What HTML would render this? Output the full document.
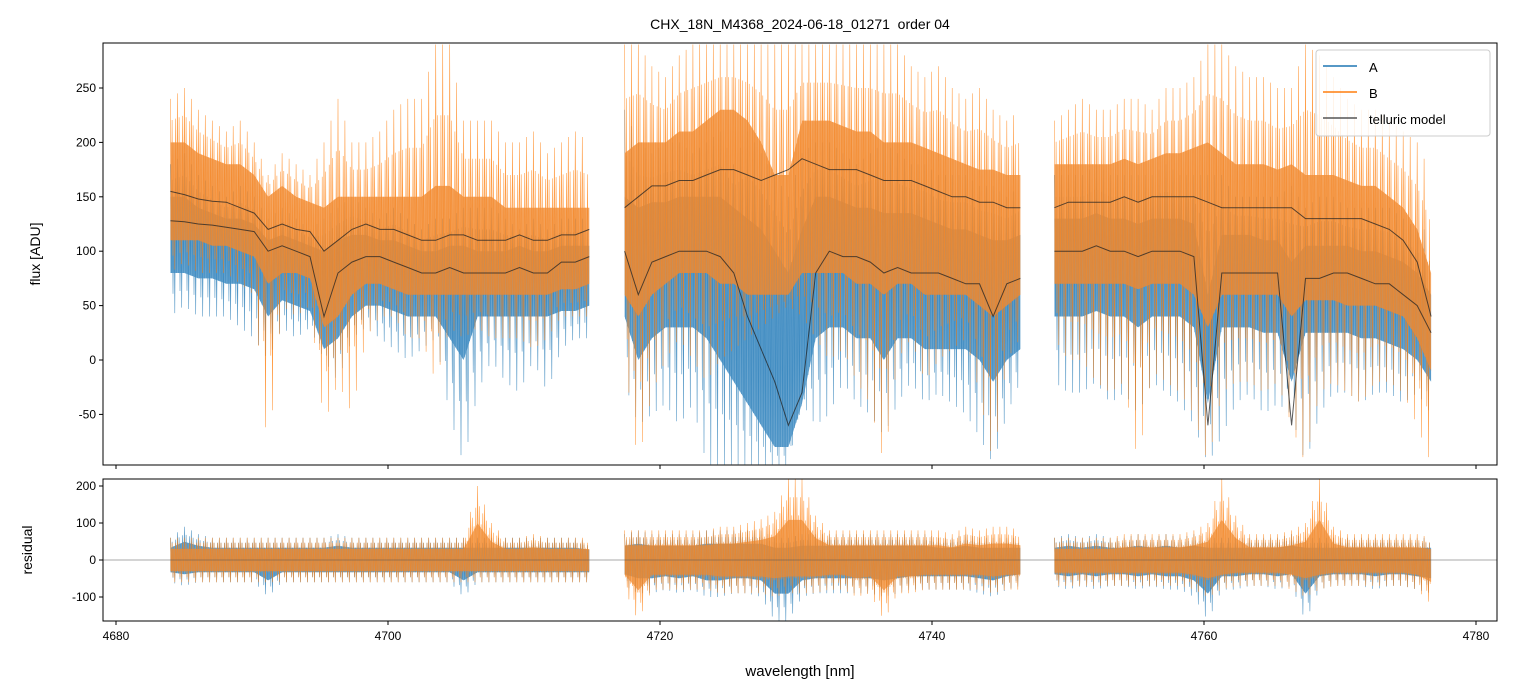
<!DOCTYPE html>
<html><head><meta charset="utf-8"><style>
body{margin:0;background:#fff;}
svg{display:block;font-family:"Liberation Sans","DejaVu Sans",sans-serif;}
</style></head><body>
<svg id="chart" width="1514" height="696">
<rect width="1514" height="696" fill="#fff"/>
<text x="800" y="29" font-size="14" text-anchor="middle" style="white-space:pre">CHX_18N_M4368_2024-06-18_01271  order 04</text>
<defs>
<clipPath id="ctop"><rect x="103" y="43" width="1394" height="422"/></clipPath>
<clipPath id="cbot"><rect x="103" y="479" width="1394" height="142"/></clipPath>
</defs>
<g id="topPanel" clip-path="url(#ctop)"></g>
<g id="botPanel" clip-path="url(#cbot)"></g>
<g id="axes"></g>
<text transform="translate(40,254) rotate(-90)" font-size="14" text-anchor="middle">flux [ADU]</text>
<text transform="translate(32,550) rotate(-90)" font-size="14" text-anchor="middle">residual</text>
<text x="800" y="676" font-size="15" text-anchor="middle">wavelength [nm]</text>
<g>
<rect x="1316" y="50" width="174" height="86" rx="3" fill="#fff" fill-opacity="0.85" stroke="#ccc"/>
<line x1="1323" y1="66" x2="1357" y2="66" stroke="#1f77b4" stroke-width="1.5"/>
<text x="1369" y="72" font-size="13">A</text>
<line x1="1323" y1="92" x2="1357" y2="92" stroke="#ff7f0e" stroke-width="1.5"/>
<text x="1369" y="98" font-size="13">B</text>
<line x1="1323" y1="118" x2="1357" y2="118" stroke="#555" stroke-width="1.5"/>
<text x="1369" y="124" font-size="13">telluric model</text>
</g>
</svg>
<script>
const segStarts=[4684,4717.4,4749];
const segEnds=[4714.8,4746.5,4776.7];
const aHi=[[180,190,170,160,150,160,150,130,140,130,120,130,140,150,140,130,140,130,120,130,130,140,140,140,130,120,130,120,130,130,130],
[230,200,190,200,200,190,200,210,180,210,190,170,150,190,200,200,190,180,190,200,190,180,180,170,170,170,160,160,150,160],
[170,170,170,180,170,170,170,170,180,170,170,170,170,150,150,150,150,160,140,150,150,140,140,140,140,130,120,120]];
const aLo=[[40,50,40,40,40,30,20,0,30,20,30,0,-20,20,30,20,10,0,10,20,-50,-96,-30,0,-20,-30,0,-30,10,20,20],
[-20,-60,-50,-40,-60,-40,-96,-96,-96,-96,-96,-96,-96,-40,-60,-50,-20,-40,-50,-70,-40,-20,-40,-30,-40,-50,-70,-96,-50,-20],
[-20,-30,-30,-20,-40,-30,-50,-20,-30,-40,-60,-96,-70,-40,-30,-50,-40,-50,-96,-50,-30,-30,-40,-30,-30,-40,-30,-50]];
const aCoreHi=[[150,150,140,135,130,130,125,110,115,110,105,100,110,115,115,110,110,105,100,100,105,105,100,100,100,105,100,100,105,105,105],
[150,140,145,145,150,150,150,150,140,130,120,100,80,120,150,150,145,140,140,135,135,135,130,125,120,120,115,110,110,115],
[130,130,130,135,130,130,125,130,130,130,125,60,115,115,115,110,110,90,105,105,105,105,100,100,95,90,80,60]];
const aCoreLo=[[80,80,75,75,70,70,65,40,55,50,45,10,20,40,50,50,45,40,40,40,20,0,40,40,40,40,40,40,45,45,50],
[40,0,20,30,30,30,20,0,-20,-40,-60,-80,-80,-40,20,30,30,20,20,0,20,20,10,10,10,10,0,-20,0,10],
[40,40,40,45,40,40,30,40,40,40,30,-40,30,30,30,25,25,-20,25,25,25,25,20,20,15,10,0,-20]];
const bHi=[[240,250,230,220,210,220,200,170,190,180,170,200,240,200,200,210,230,240,240,290,290,220,220,220,200,200,210,190,200,210,200],
[290,290,270,260,280,290,290,290,290,290,290,290,290,290,290,290,290,290,290,290,290,270,260,270,250,240,250,230,220,230],
[220,230,240,230,230,240,240,230,250,250,260,290,290,270,260,260,250,250,290,280,260,240,230,230,220,210,200,170]];
const bLo=[[80,90,80,80,80,70,60,-90,50,40,50,-60,-20,-50,20,40,40,20,20,-20,30,20,30,20,20,20,10,20,40,40,40],
[0,-96,-30,0,20,0,-20,0,10,20,30,40,50,40,20,0,10,-20,-40,-96,0,20,-20,0,10,20,-30,-96,0,20],
[20,0,0,-20,-30,-20,-96,-10,-20,-30,-50,-96,-30,-20,-20,-30,-20,-60,-96,-30,-20,-30,-40,-20,-20,-30,-60,-96]];
const bCoreHi=[[200,200,190,185,180,180,170,150,160,150,145,140,150,150,150,150,150,150,150,160,160,150,150,150,140,140,140,140,140,140,140],
[190,200,200,200,210,210,220,230,230,220,200,170,170,220,220,220,215,210,210,200,200,200,195,190,185,180,175,175,170,170],
[180,180,180,180,180,185,180,185,190,190,195,200,190,180,180,180,175,180,170,170,170,165,160,160,150,140,120,80]];
const bCoreLo=[[110,110,110,105,105,100,95,70,80,80,75,30,40,60,70,70,65,60,60,60,60,60,60,60,60,60,60,60,65,65,70],
[60,40,60,70,80,80,80,70,70,60,60,60,60,80,80,80,80,70,70,60,70,70,60,60,60,60,50,40,50,60],
[70,70,70,70,70,70,65,70,70,70,60,30,60,60,60,60,60,40,55,55,55,50,50,50,45,40,20,-10]];
const modelHi=[[155,152,148,146,145,140,135,120,125,120,118,100,110,120,125,120,120,115,110,110,115,115,110,110,110,115,110,110,115,115,120],
[140,150,160,160,165,165,170,175,175,170,165,170,175,185,180,175,175,175,170,165,165,165,160,155,150,150,145,145,140,140],
[140,145,145,145,145,150,145,150,150,150,150,145,140,140,140,140,140,140,130,130,130,130,130,125,120,110,90,40]];
const modelLo=[[128,127,125,124,122,120,118,100,105,100,95,40,80,90,95,95,90,85,80,80,85,80,80,80,80,85,80,80,90,90,95],
[100,60,90,95,100,100,100,95,80,40,10,-20,-60,-30,80,100,95,95,90,80,85,80,80,80,75,70,70,40,70,75],
[100,100,100,105,100,100,95,100,100,100,95,-60,80,80,80,80,80,-60,75,75,80,80,75,70,70,60,50,25]];
const resAHi=[[60,90,70,60,60,60,60,60,60,60,60,60,70,60,60,60,60,60,60,60,60,60,60,60,60,60,60,60,60,60,50],
[70,80,70,70,70,70,80,80,80,80,80,60,60,70,70,70,70,70,70,70,70,70,70,60,60,70,60,60,60,60],
[60,70,60,70,60,60,70,60,70,60,70,60,60,60,60,60,60,70,60,60,60,60,60,60,60,60,60,60]];
const resALo=[[-60,-70,-60,-60,-60,-60,-60,-100,-60,-60,-60,-60,-60,-60,-60,-60,-60,-60,-60,-60,-60,-100,-60,-60,-60,-60,-60,-60,-60,-60,-60],
[-70,-90,-90,-80,-90,-80,-100,-100,-90,-90,-100,-165,-165,-100,-90,-90,-90,-90,-90,-100,-90,-80,-80,-80,-80,-80,-90,-100,-80,-70],
[-70,-80,-70,-80,-70,-70,-80,-70,-80,-80,-100,-165,-80,-80,-70,-70,-80,-70,-165,-80,-70,-70,-70,-80,-70,-70,-80,-90]];
const resBHi=[[60,60,60,60,60,60,60,60,60,60,60,60,60,60,60,60,60,60,60,60,60,60,200,100,60,60,70,60,60,60,60],
[80,80,80,80,80,80,80,90,90,100,110,130,219,219,120,80,80,80,80,80,80,80,80,80,70,90,80,90,90,80],
[60,60,60,60,60,70,70,70,70,70,80,100,219,120,70,70,70,80,100,219,90,70,70,70,70,70,70,60]];
const resBLo=[[-60,-60,-60,-60,-60,-60,-60,-60,-60,-60,-60,-60,-60,-60,-60,-60,-60,-60,-60,-60,-60,-60,-60,-60,-60,-60,-60,-60,-60,-60,-60],
[-80,-165,-80,-80,-80,-80,-80,-90,-90,-90,-90,-100,-90,-90,-90,-80,-80,-100,-90,-165,-90,-90,-80,-80,-80,-80,-80,-90,-80,-80],
[-70,-70,-70,-70,-70,-70,-70,-70,-70,-70,-80,-100,-80,-70,-70,-70,-70,-80,-100,-80,-70,-70,-70,-70,-70,-70,-80,-120]];
const xTicks=[4680,4700,4720,4740,4760,4780];
const yTicksTop=[-50,0,50,100,150,200,250];
const yTicksBot=[-100,0,100,200];

const NS="http://www.w3.org/2000/svg";
const L=103,R=1497;
const X=v=>116+(v-4680)*13.6;
const YT=v=>360-v*1.088;
const YB=v=>560-v*0.37;
function mk(tag,attrs,parent){const e=document.createElementNS(NS,tag);for(const k in attrs)e.setAttribute(k,attrs[k]);parent.appendChild(e);return e;}
const topG=document.getElementById('topPanel'),botG=document.getElementById('botPanel'),axG=document.getElementById('axes');
function xs(s,n){const a=[];for(let i=0;i<n;i++)a.push(segStarts[s]+i*(segEnds[s]-segStarts[s])/(n-1));return a;}
function lerp(a,i,t){return a[i]+(a[i+1]-a[i])*t;}
function zig(s,hi,lo,cHi,cLo,Y){const n=hi.length,x=xs(s,n);let pts=[];const step=(segEnds[s]-segStarts[s])/(n-1);const K=16;
 for(let i=0;i<n-1;i++){for(let k=0;k<K;k++){const t=k/K;const xv=x[i]+step*t;
  const h=lerp(hi,i,t),l=lerp(lo,i,t),ch=lerp(cHi,i,t),cl=lerp(cLo,i,t);
  const seq=[h,cl,ch*0.5+h*0.5,cl*0.5+l*0.5,ch,l,(h+ch)/2,cl];
  pts.push(X(xv).toFixed(1)+','+Y(seq[k%8]).toFixed(1));}}
 return pts.join(' ');}
function band(s,hi,lo,Y){const n=hi.length,x=xs(s,n);let p=[];for(let i=0;i<n;i++)p.push(X(x[i]).toFixed(1)+','+Y(hi[i]).toFixed(1));
 for(let i=n-1;i>=0;i--)p.push(X(x[i]).toFixed(1)+','+Y(lo[i]).toFixed(1));return p.join(' ');}
function line(s,v,Y){const x=xs(s,v.length);return v.map((d,i)=>X(x[i]).toFixed(1)+','+Y(d).toFixed(1)).join(' ');}
for(let s=0;s<3;s++){
 let e=mk('polyline',{points:zig(s,aHi[s],aLo[s],aCoreHi[s],aCoreLo[s],YT),fill:'none',stroke:'#1f77b4','stroke-width':0.55,'stroke-opacity':0.8},topG);
 
 
 e=mk('polygon',{points:band(s,aCoreHi[s],aCoreLo[s],YT),fill:'#3a88c0','fill-opacity':0.75},topG);
 
 
 e=mk('polyline',{points:zig(s,bHi[s],bLo[s],bCoreHi[s],bCoreLo[s],YT),fill:'none',stroke:'#ff7f0e','stroke-width':0.55,'stroke-opacity':0.8},topG);
 
 
 e=mk('polygon',{points:band(s,bCoreHi[s],bCoreLo[s],YT),fill:'#f08a30','fill-opacity':0.75},topG);
 
 
 e=mk('polyline',{points:line(s,modelHi[s],YT),fill:'none',stroke:'#222','stroke-width':1,'stroke-opacity':0.75},topG);
 
 
 e=mk('polyline',{points:line(s,modelLo[s],YT),fill:'none',stroke:'#222','stroke-width':1,'stroke-opacity':0.75},topG);
 
 
 const aCH=resAHi[s].map(v=>v*0.55),aCL=resALo[s].map(v=>v*0.55),bCH=resBHi[s].map(v=>v*0.55),bCL=resBLo[s].map(v=>v*0.55);
 e=mk('polyline',{points:zig(s,resAHi[s],resALo[s],aCH,aCL,YB),fill:'none',stroke:'#1f77b4','stroke-width':0.55,'stroke-opacity':0.8},botG);
 
 
 e=mk('polygon',{points:band(s,aCH,aCL,YB),fill:'#3a88c0','fill-opacity':0.75},botG);
 
 
 e=mk('polyline',{points:zig(s,resBHi[s],resBLo[s],bCH,bCL,YB),fill:'none',stroke:'#ff7f0e','stroke-width':0.55,'stroke-opacity':0.8},botG);
 
 
 e=mk('polygon',{points:band(s,bCH.map(v=>v*0.9),bCL.map(v=>v*0.9),YB),fill:'#f08a30','fill-opacity':0.7},botG);
 
 
}
let z=mk('line',{x1:L,x2:R,y1:YB(0),y2:YB(0),stroke:'#555','stroke-width':0.6},botG);


let f=mk('rect',{x:L,y:43,width:R-L,height:422,fill:'none',stroke:'#000','stroke-width':1},axG);


f=mk('rect',{x:L,y:479,width:R-L,height:142,fill:'none',stroke:'#000','stroke-width':1},axG);


xTicks.forEach(v=>{mk('line',{x1:X(v),x2:X(v),y1:465,y2:469,stroke:'#000'},axG);mk('line',{x1:X(v),x2:X(v),y1:621,y2:625,stroke:'#000'},axG);
 const t=mk('text',{x:X(v),y:640,'font-size':12,'text-anchor':'middle'},axG);t.textContent=v;
 
 });
yTicksTop.forEach(v=>{mk('line',{x1:L-4,x2:L,y1:YT(v),y2:YT(v),stroke:'#000'},axG);
 const t=mk('text',{x:L-7,y:YT(v)+4,'font-size':12,'text-anchor':'end'},axG);t.textContent=v;
 
 });
yTicksBot.forEach(v=>{mk('line',{x1:L-4,x2:L,y1:YB(v),y2:YB(v),stroke:'#000'},axG);
 const t=mk('text',{x:L-7,y:YB(v)+4,'font-size':12,'text-anchor':'end'},axG);t.textContent=v;
 
 });
</script>
</body></html>
